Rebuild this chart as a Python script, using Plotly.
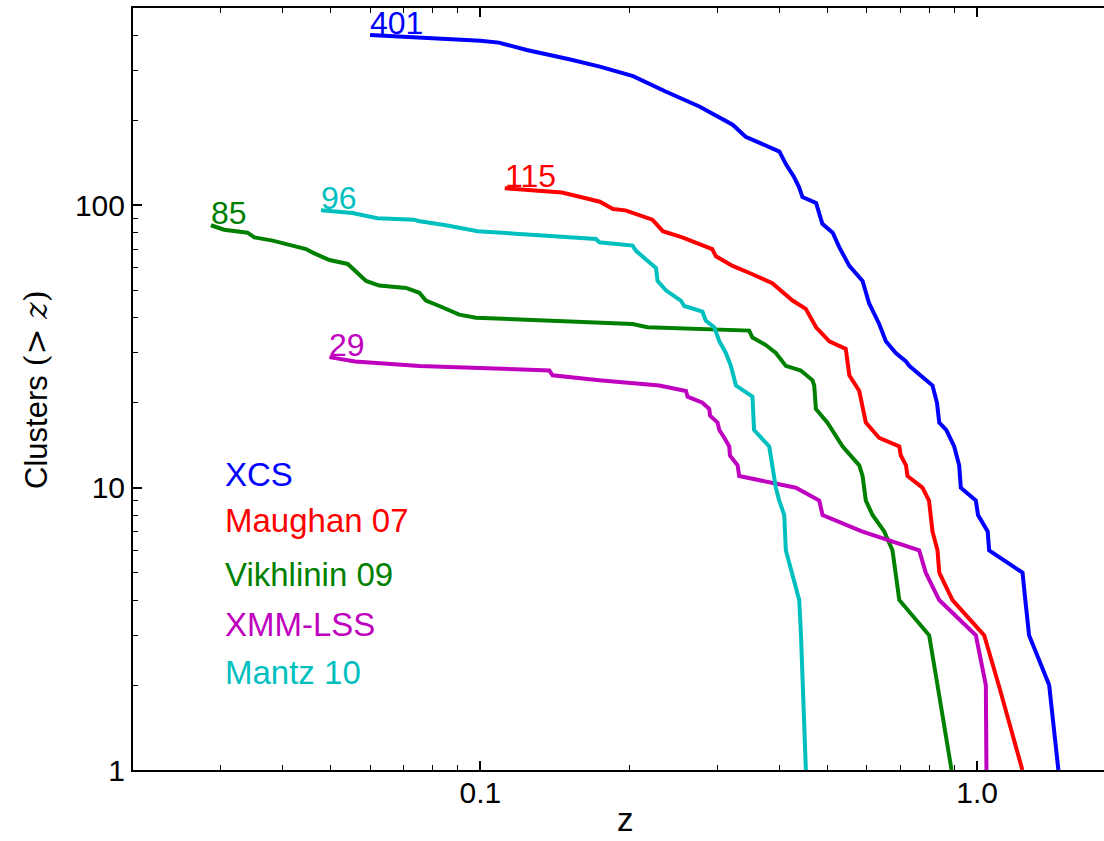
import numpy as np
import plotly.graph_objects as go

# Cumulative number of clusters above redshift z, per survey
xcs_z = [0.060, 0.080, 0.100, 0.109, 0.124, 0.151, 0.174, 0.203, 0.236, 0.276,
         0.322, 0.342, 0.400, 0.412, 0.428, 0.438, 0.445, 0.474, 0.488, 0.512,
         0.528, 0.553, 0.588, 0.606, 0.635, 0.655, 0.686, 0.719, 0.730, 0.813,
         0.830, 0.839, 0.867, 0.899, 0.920, 0.927, 0.994, 1.004, 1.050, 1.057,
         1.234, 1.250, 1.272, 1.396, 1.457]
xcs_n = [401, 392, 383, 377, 355, 329, 310, 287, 253, 224,
         193, 175, 155, 140, 126, 116, 107, 102, 86, 80,
         71, 61, 54, 45, 38, 33, 30, 28, 27, 23,
         20, 17, 16, 14, 12, 10, 9, 8, 7, 6,
         5, 4, 3, 2, 1]

maughan_z = [0.112, 0.146, 0.163, 0.174, 0.185, 0.196, 0.222, 0.233, 0.255, 0.293,
             0.298, 0.322, 0.353, 0.387, 0.425, 0.452, 0.474, 0.504, 0.544, 0.553,
             0.579, 0.597, 0.635, 0.697, 0.702, 0.719, 0.724, 0.776, 0.800, 0.813,
             0.832, 0.839, 0.892, 1.033, 1.105, 1.233]
maughan_n = [115, 111, 106, 103, 97, 96, 89, 81, 77, 70,
             66, 61, 57, 53, 46, 43, 37, 33, 31, 25,
             22, 17, 15, 14, 13, 12, 11, 10, 9, 7,
             6, 5, 4, 3, 2, 1]

vikhlinin_z = [0.0287, 0.0305, 0.0340, 0.0351, 0.0382, 0.0416, 0.0446, 0.0460, 0.0497, 0.0541,
               0.0562, 0.0589, 0.0626, 0.0709, 0.0754, 0.0777, 0.0827, 0.0907, 0.0980, 0.1377,
               0.2025, 0.2170, 0.3477, 0.3530, 0.3756, 0.3934, 0.3996, 0.4120, 0.4417, 0.4663,
               0.4700, 0.4736, 0.4997, 0.5115, 0.5358, 0.5790, 0.5880, 0.5970, 0.6157, 0.6500,
               0.6754, 0.6970, 0.8005, 0.8320, 0.8880]
vikhlinin_n = [85, 82, 80, 77, 75, 72, 70, 68, 64, 62,
               58, 54, 52, 51, 49, 46, 44, 41, 40, 39,
               38, 37, 36, 34, 32, 30, 29, 27, 26, 24,
               23, 19, 17, 16, 14, 12, 11, 9, 8, 7,
               6, 4, 3, 2, 1]

xmmlss_z = [0.0497, 0.0560, 0.0754, 0.1377, 0.1398, 0.1736, 0.2292, 0.2594, 0.2613, 0.2800,
            0.2890, 0.2900, 0.3002, 0.3027, 0.3100, 0.3170, 0.3180, 0.3295, 0.3320, 0.4316,
            0.4810, 0.4884, 0.5860, 0.7643, 0.7880, 0.8386, 0.9940, 1.0410, 1.0440]
xmmlss_n = [29, 28, 27, 26, 25, 24, 23, 22, 21, 20,
            19, 18, 17, 16, 15, 14, 13, 12, 11, 10,
            9, 8, 7, 6, 5, 4, 3, 2, 1]

mantz_z = [0.0478, 0.0553, 0.0621, 0.0737, 0.0750, 0.0853, 0.0988, 0.1377, 0.1709, 0.1736,
           0.1845, 0.2025, 0.2058, 0.2155, 0.2257, 0.2274, 0.2363, 0.2533, 0.2573, 0.2800,
           0.2844, 0.2957, 0.3027, 0.3120, 0.3194, 0.3270, 0.3530, 0.3556, 0.3815, 0.3934,
           0.3996, 0.4090, 0.4120, 0.4384, 0.4420, 0.4521]
mantz_n = [96, 94, 90, 89, 88, 85, 81, 78, 76, 74,
           73, 72, 69, 64, 60, 54, 50, 46, 44, 42,
           39, 37, 33, 30, 27, 23, 21, 16, 14, 10,
           9, 8, 6, 4, 3, 1]

survey_names = ["XCS", "Maughan 07", "Vikhlinin 09", "XMM-LSS", "Mantz 10"]
survey_colors = ["#0000ff", "#ff0000", "#008000", "#bf00bf", "#00bfbf"]
survey_data = [(xcs_z, xcs_n), (maughan_z, maughan_n), (vikhlinin_z, vikhlinin_n),
               (xmmlss_z, xmmlss_n), (mantz_z, mantz_n)]

x_ticks = [0.1, 1.0]
x_tick_text = ["0.1", "1.0"]
y_ticks = [1, 10, 100]
y_tick_text = ["1", "10", "100"]
x_minor = [0.03, 0.04, 0.05, 0.06, 0.07, 0.08, 0.09, 0.2, 0.3, 0.4, 0.5, 0.6, 0.7, 0.8, 0.9]
y_minor = [2, 3, 4, 5, 6, 7, 8, 9, 20, 30, 40, 50, 60, 70, 80, 90, 200, 300, 400]

FONT = "Liberation Sans, Arial, Helvetica, sans-serif"

fig = go.Figure()
for name, (z, n), color in zip(survey_names, survey_data, survey_colors):
    fig.add_trace(go.Scatter(x=z, y=n, mode="lines", name=name, showlegend=False,
                             line=dict(color=color, width=4)))
    # total count written at the start of each curve
    fig.add_annotation(x=np.log10(z[0]), y=np.log10(n[0]), xref="x", yref="y",
                       text=str(n[0]), showarrow=False, xanchor="left", yanchor="bottom",
                       yshift=-8, xshift=-2, font=dict(family=FONT, size=32, color=color))

# coloured survey names in the lower left
legend_y = [0.3875, 0.3274, 0.2572, 0.1910, 0.1286]
for name, color, ly in zip(survey_names, survey_colors, legend_y):
    fig.add_annotation(x=0.0924, y=ly, xref="paper", yref="paper", text=name,
                       showarrow=False, xanchor="left", yanchor="middle",
                       font=dict(family=FONT, size=33, color=color))

# axis titles
fig.add_annotation(x=0.507, y=-0.0925, xref="paper", yref="paper", text="z",
                   showarrow=False, xanchor="center", yanchor="bottom",
                   font=dict(family=FONT, size=33, color="black"))
fig.add_annotation(x=-0.100, y=0.50, xref="paper", yref="paper",
                   text='Clusters <span style="font-family:DejaVu Serif">(&gt; <i>z</i>)</span>',
                   textangle=-90, showarrow=False, xanchor="center", yanchor="middle",
                   font=dict(family=FONT, size=31, color="black"))

fig.update_xaxes(type="log", range=[np.log10(0.02), np.log10(1.8)],
                 tickvals=x_ticks, ticktext=x_tick_text,
                 ticks="inside", ticklen=9, tickwidth=1.5, tickcolor="black",
                 ticklabelstandoff=-5,
                 showline=True, linewidth=2, linecolor="black", mirror="allticks",
                 showgrid=False, zeroline=False,
                 tickfont=dict(family=FONT, size=30, color="black"),
                 minor=dict(tickvals=x_minor, ticks="inside", ticklen=5, tickwidth=1.2,
                            tickcolor="black", showgrid=False))
fig.update_yaxes(type="log", range=[0, np.log10(500)],
                 tickvals=y_ticks, ticktext=y_tick_text,
                 ticks="inside", ticklen=9, tickwidth=1.5, tickcolor="black",
                 showline=True, linewidth=2, linecolor="black", mirror=False,
                 showgrid=False, zeroline=False,
                 tickfont=dict(family=FONT, size=30, color="black"),
                 minor=dict(tickvals=y_minor, ticks="inside", ticklen=5, tickwidth=1.2,
                            tickcolor="black", showgrid=False))

fig.update_layout(width=1104, height=841, margin=dict(l=133, r=0, t=8, b=71),
                  plot_bgcolor="white", paper_bgcolor="white", showlegend=False)

fig.write_html("out.html")
